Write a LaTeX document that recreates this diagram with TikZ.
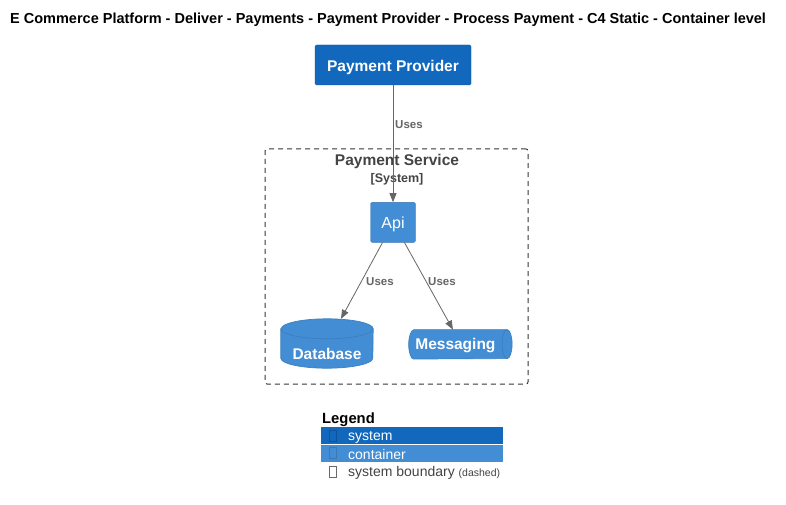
\documentclass[tikz,border=0pt]{standalone}
\usepackage{fontspec}
\setmainfont{Liberation Sans}
\usetikzlibrary{positioning}
\usetikzlibrary{arrows.meta}
\definecolor{systemblue}{HTML}{1168BD}
\definecolor{containerblue}{HTML}{438DD5}
\definecolor{cylline}{HTML}{3C7FC0}
\definecolor{bordergray}{HTML}{444444}
\definecolor{linegray}{HTML}{666666}
\tikzset{system node/.style={shape=rectangle, rounded corners=1.5pt,
    draw=systemblue!85!black, fill=systemblue, text=white,
    font=\bfseries\fontsize{15.5}{18}\selectfont, inner sep=0pt}}
\tikzset{container node/.style={shape=rectangle, rounded corners=1.5pt,
    draw=containerblue!85!black, fill=containerblue, text=white,
    font=\fontsize{16}{18}\selectfont, inner sep=0pt}}
\tikzset{store node/.style={shape=rectangle, inner sep=0pt, text=white,
    font=\bfseries\fontsize{15.5}{18}\selectfont}}
\tikzset{store/.style={fill=containerblue, draw=cylline, line width=0.7pt}}
\tikzset{uses/.style={color=linegray, line width=0.8pt,
    -{Triangle[length=9pt,width=7pt]}}}
\tikzset{uses label/.style={text=linegray, font=\bfseries\fontsize{11.5}{13}\selectfont,
    inner sep=0pt, anchor=west}}
\tikzset{legend row/.style={shape=rectangle, anchor=north west, inner sep=0pt,
    minimum width=182pt, minimum height=17pt}}
\tikzset{legend text/.style={anchor=west, inner sep=0pt, font=\fontsize{14}{16}\selectfont}}
\tikzset{tofu/.style={shape=rectangle, draw, line width=0.5pt,
    minimum width=7pt, minimum height=11pt, inner sep=0pt}}

\begin{document}
\begin{tikzpicture}[x=1pt,y=-1pt]
    \useasboundingbox[fill=white] (0,0) rectangle (786,505);
    \node[anchor=base west, font=\bfseries\fontsize{14.5}{17}\selectfont, inner sep=0pt]
        (0) at (10,24) {E Commerce Platform - Deliver - Payments - Payment Provider - Process Payment - C4 Static - Container level};

    % boundary
    \node[draw=bordergray!80!black, line width=1pt, dash pattern=on 5pt off 4pt, rounded corners=2pt,
        minimum width=263pt, minimum height=235pt, inner sep=0pt] (b) at (396.5,266.5) {};
    \node[text=bordergray, font=\bfseries\fontsize{15.5}{18}\selectfont, inner sep=0pt] (bt) at (397,161.5) {Payment Service};
    \node[text=bordergray, font=\bfseries\fontsize{12.5}{14}\selectfont, inner sep=0pt] (bs) [below = 4pt of bt] {[System]};

    \node[system node, minimum width=156pt, minimum height=40pt] (1) at (393,65)
        {\raisebox{-2.5pt}[\height][\depth]{Payment Provider}};
    \node[container node, minimum width=45pt, minimum height=40pt] (2) [below = 117pt of 1]
        {\raisebox{-2pt}[\height][\depth]{Api}};

    % database: body drawn from the node's corners
    \node[store node, minimum width=92pt, minimum height=49pt] (3) at (327,343.5) {};
    \path[store] (3.north west) ++(0,10) -- ([yshift=10pt]3.south west)
        arc[start angle=180, end angle=360, x radius=46pt, y radius=10pt]
        -- ([yshift=-10pt]3.north east)
        arc[start angle=0, end angle=180, x radius=46pt, y radius=10pt] -- cycle;
    \draw[draw=cylline, line width=0.7pt] (3.north west) ++(0,10)
        arc[start angle=180, end angle=360, x radius=46pt, y radius=10pt];
    \node[store node] (3t) at ([yshift=-10.5pt]3.center) {Database};

    % messaging: lying cylinder
    \node[store node, minimum width=103pt, minimum height=29pt] (4) [below right = 87pt and -7pt of 2] {};
    \path[store] ([xshift=5pt]4.north west) -- ([xshift=-5pt]4.north east)
        arc[start angle=90, end angle=-90, x radius=5pt, y radius=14.5pt]
        -- ([xshift=5pt]4.south west)
        arc[start angle=270, end angle=90, x radius=5pt, y radius=14.5pt] -- cycle;
    \draw[draw=cylline, line width=0.7pt] ([xshift=-5pt]4.north east)
        arc[start angle=90, end angle=270, x radius=5pt, y radius=14.5pt];
    \node[store node] (4t) at ([xshift=-5pt,yshift=-1.5pt]4.center) {Messaging};

    \path[uses]
    (1) edge (2)
    ([xshift=-10.5pt]2.south) edge ([xshift=14pt]3.north)
    ([xshift=11.5pt]2.south) edge ([xshift=-7.5pt]4.north)
    ;
    \node[uses label] (u1) at (395,124.5) {Uses};
    \node[uses label] (u2) at (366,281.5) {Uses};
    \node[uses label] (u3) at (428,281.5) {Uses};

    % legend
    \node[anchor=base west, font=\bfseries\fontsize{14.8}{17}\selectfont, inner sep=0pt] (5) at (322,423) {Legend};
    \node[legend row, fill=systemblue] (6) at (321,427) {};
    \node[legend row, fill=containerblue] (7) [below = 0pt of 6] {};
    \node[legend row] (8) [below = 0pt of 7] {};
    \node[tofu, draw=systemblue!80!black] (6a) at (333,436) {};
    \node[tofu, draw=containerblue!85!black] (7a) at (333,453) {};
    \node[tofu, draw=bordergray!80] (8a) at (333,471.5) {};
    \node[legend text, text=white] (6b) at (348,437.5) {system};
    \node[legend text, text=white] (7b) at (348,454.5) {container};
    \node[legend text, text=bordergray] (8b) at (348,472.5) {system boundary \fontsize{10.5}{12}\selectfont(dashed)};
\end{tikzpicture}
\end{document}
